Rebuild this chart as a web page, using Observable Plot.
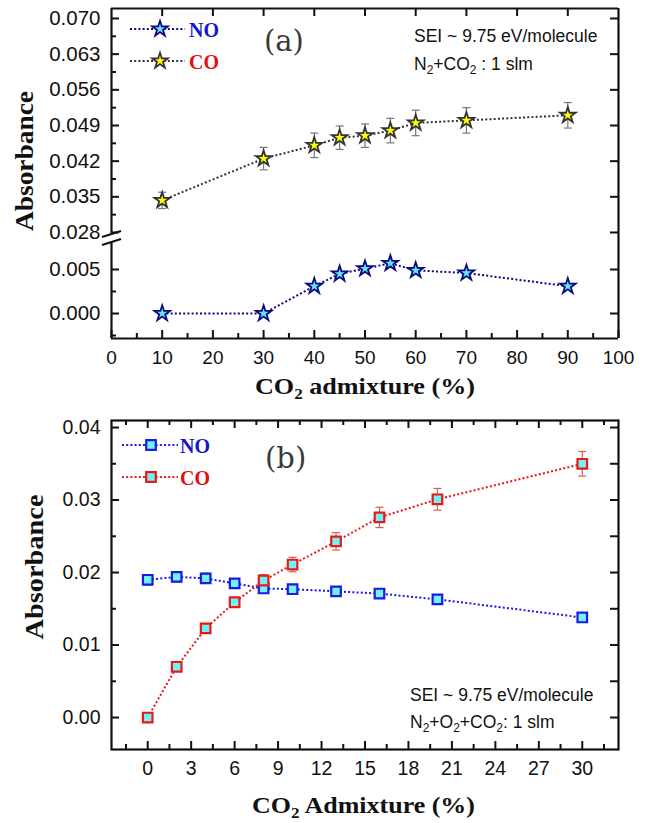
<!DOCTYPE html>
<html><head><meta charset="utf-8">
<script src="https://cdn.jsdelivr.net/npm/d3@7"></script>
<script src="https://cdn.jsdelivr.net/npm/@observablehq/plot@0.6"></script>
<style>
body{margin:0;background:#fff;}
#wrap{position:relative;width:665px;height:823px;overflow:hidden;background:#fff;}
#wrap svg{position:absolute;left:0;}
</style></head><body><div id="wrap"></div>
<script>
// ---------- data: panel (a) ----------
const admixA = [10, 30, 40, 45, 50, 55, 60, 70, 90];
const coA    = [0.0343, 0.0425, 0.0451, 0.0466, 0.0470, 0.0480, 0.0495, 0.0500, 0.0510];
const coAErr = [0.0016, 0.0022, 0.0024, 0.0023, 0.0023, 0.0024, 0.0025, 0.0025, 0.0025];
const noA    = [0.0000, 0.0000, 0.0031, 0.0045, 0.0051, 0.0057, 0.0049, 0.0046, 0.0031];
// ---------- data: panel (b) ----------
const admixB = [0, 2, 4, 6, 8, 10, 13, 16, 20, 30];
const noB    = [0.0190, 0.0194, 0.0192, 0.0185, 0.0178, 0.0177, 0.0174, 0.0171, 0.0163, 0.0138];
const noBErr = [0.0007, 0.0007, 0.0007, 0.0006, 0.0005, 0.0005, 0.0004, 0.0004, 0.0004, 0.0003];
const coB    = [0.0000, 0.0070, 0.0123, 0.0159, 0.0189, 0.0211, 0.0243, 0.0276, 0.0301, 0.0350];
const coBErr = [0.0003, 0.0005, 0.0005, 0.0005, 0.0008, 0.0010, 0.0012, 0.0014, 0.0015, 0.0017];
// ---------- ticks ----------
const xTicksA = [0, 10, 20, 30, 40, 50, 60, 70, 80, 90, 100];
const xMinorA = [5, 15, 25, 35, 45, 55, 65, 75, 85, 95];
const yUpperTicks = [0.028, 0.035, 0.042, 0.049, 0.056, 0.063, 0.070];
const yUpperMinor = [0.0315, 0.0385, 0.0455, 0.0525, 0.0595, 0.0665];
const yLowerTicks = [0.000, 0.005];
const yLowerMinor = [-0.0025, 0.0025];
const xTicksB = [0, 3, 6, 9, 12, 15, 18, 21, 24, 27, 30];
const xMinorB = [-1.5, 1.5, 4.5, 7.5, 10.5, 13.5, 16.5, 19.5, 22.5, 25.5, 28.5, 31.5];
const yTicksB = [0.00, 0.01, 0.02, 0.03, 0.04];
const yMinorB = [0.005, 0.015, 0.025, 0.035];
// axis extents
const xDomainA = [0, 100];
const upperDomain = [0.02682, 0.07196];
const upperBreak = 0.02761;
const lowerDomain = [-0.00284, 0.00852];
const lowerBreak = 0.00807;
const xDomainB = [-2.5, 32.5];
const yDomainB = [-0.00441, 0.04097];

// ---------- layout ----------
const W = 665, ML = 111, MR = 47, PW = W - ML - MR;
const MAJ = 8, MIN = 5, SW = 2.2;
const wrap = document.getElementById("wrap");
const baseStyle = {fontFamily: "'Liberation Sans', Arial, sans-serif", fontSize: "19px", color: "#111", background: "transparent", overflow: "visible"};

const capSymbol = {draw(ctx, size) { const w = Math.sqrt(size); ctx.moveTo(-w / 2, 0); ctx.lineTo(w / 2, 0); }};
const dotted = {strokeWidth: 2, strokeDasharray: "2 2.2", strokeLinecap: "butt"};

function ticksLeft(vals, len) { return Plot.tickY(vals, {y: d => d, insetRight: PW - len, strokeWidth: 2}); }
function ticksRight(vals, len) { return Plot.tickY(vals, {y: d => d, insetLeft: PW - len, strokeWidth: 2}); }
function ticksBottom(vals, len, ph) { return Plot.tickX(vals, {x: d => d, insetTop: ph - len, strokeWidth: 2}); }
function ticksTop(vals, len, ph) { return Plot.tickX(vals, {x: d => d, insetBottom: ph - len, strokeWidth: 2}); }

function place(svg, top) { svg.style.top = top + "px"; wrap.appendChild(svg); }

const dataA = admixA.map((x, i) => ({x, co: coA[i], coErr: coAErr[i], no: noA[i]}));
const dataB = admixB.map((x, i) => ({x, no: noB[i], noErr: noBErr[i], co: coB[i], coErr: coBErr[i]}));

// ---------- panel (a), upper segment ----------
const upH = 230;
place(Plot.plot({
  width: W, height: 238, marginLeft: ML, marginRight: MR, marginTop: 8, marginBottom: 0,
  x: {domain: xDomainA, axis: null}, y: {domain: upperDomain, axis: null},
  style: baseStyle,
  marks: [
    Plot.ruleY([upperDomain[1]], {strokeWidth: SW}),
    Plot.ruleX([xDomainA[1]], {strokeWidth: SW}),
    Plot.ruleX([xDomainA[0]], {y1: upperBreak, y2: upperDomain[1], strokeWidth: SW}),
    ticksLeft(yUpperTicks, MAJ), ticksLeft(yUpperMinor, MIN),
    ticksRight(yUpperTicks, MAJ),
    ticksTop(xTicksA.slice(1, -1), MAJ, upH),
    Plot.axisY(yUpperTicks, {anchor: "left", tickSize: 0, tickPadding: 11, fontSize: 20.5, tickFormat: d3.format(".3f"), label: null}),
    Plot.line(dataA, {x: "x", y: "co", stroke: "#333", ...dotted}),
    Plot.ruleX(dataA, {x: "x", y1: d => d.co - d.coErr, y2: d => d.co + d.coErr, stroke: "#777", strokeWidth: 1.2}),
    Plot.dot(dataA, {x: "x", y: d => d.co + d.coErr, symbol: capSymbol, r: 4.5, fill: "none", stroke: "#777", strokeWidth: 1.2}),
    Plot.dot(dataA, {x: "x", y: d => d.co - d.coErr, symbol: capSymbol, r: 4.5, fill: "none", stroke: "#777", strokeWidth: 1.2}),
    Plot.dot(dataA, {x: "x", y: "co", symbol: "star", r: 4.9, fill: "#ffff00", stroke: "#333", strokeWidth: 1.8})
  ]
}), 0);

// ---------- panel (a), lower segment ----------
const loH = 100;
place(Plot.plot({
  width: W, height: 140, marginLeft: ML, marginRight: MR, marginTop: 0, marginBottom: 40,
  x: {domain: xDomainA}, y: {domain: lowerDomain},
  style: baseStyle,
  marks: [
    Plot.ruleY([lowerDomain[0]], {strokeWidth: SW}),
    Plot.ruleX([xDomainA[1]], {strokeWidth: SW}),
    Plot.ruleX([xDomainA[0]], {y1: lowerDomain[0], y2: lowerBreak, strokeWidth: SW}),
    ticksLeft(yLowerTicks, MAJ), ticksLeft(yLowerMinor, MIN),
    ticksRight(yLowerTicks, MAJ),
    ticksBottom(xTicksA, MAJ, loH), ticksBottom(xMinorA, MIN, loH),
    Plot.axisY(yLowerTicks, {anchor: "left", tickSize: 0, tickPadding: 11, fontSize: 20.5, tickFormat: d3.format(".3f"), label: null}),
    Plot.axisX(xTicksA, {anchor: "bottom", tickSize: 0, tickPadding: 12, label: null}),
    Plot.line(dataA, {x: "x", y: "no", stroke: "#0a0a80", ...dotted}),
    Plot.dot(dataA, {x: "x", y: "no", symbol: "star", r: 4.9, fill: "#66e6f8", stroke: "#0a0a80", strokeWidth: 1.8})
  ]
}), 238);

// ---------- panel (b) ----------
const bH = 329;
const errB = (key, ekey, color) => [
  Plot.ruleX(dataB, {x: "x", y1: d => d[key] - d[ekey], y2: d => d[key] + d[ekey], stroke: color, strokeWidth: 1.2}),
  Plot.dot(dataB, {x: "x", y: d => d[key] + d[ekey], symbol: capSymbol, r: 4.5, fill: "none", stroke: color, strokeWidth: 1.2}),
  Plot.dot(dataB, {x: "x", y: d => d[key] - d[ekey], symbol: capSymbol, r: 4.5, fill: "none", stroke: color, strokeWidth: 1.2})
];
place(Plot.plot({
  width: W, height: 389, marginLeft: ML, marginRight: MR, marginTop: 20, marginBottom: 40,
  x: {domain: xDomainB}, y: {domain: yDomainB},
  style: baseStyle,
  marks: [
    Plot.frame({strokeWidth: SW}),
    ticksLeft(yTicksB, MAJ), ticksLeft(yMinorB, MIN),
    ticksRight(yTicksB, MAJ), ticksRight(yMinorB, MAJ),
    ticksBottom(xTicksB, MAJ, bH), ticksBottom(xMinorB, MIN, bH),
    ticksTop(xTicksB, MAJ, bH), ticksTop(xMinorB, MIN, bH),
    Plot.axisY(yTicksB, {anchor: "left", tickSize: 0, tickPadding: 11, fontSize: 19.5, tickFormat: d3.format(".2f"), label: null}),
    Plot.axisX(xTicksB, {anchor: "bottom", tickSize: 0, tickPadding: 12, fontSize: 19.5, label: null}),
    Plot.line(dataB, {x: "x", y: "no", stroke: "#1a1ae6", ...dotted}),
    Plot.line(dataB, {x: "x", y: "co", stroke: "#e61a1a", ...dotted}),
    ...errB("no", "noErr", "#6a6ae0"),
    ...errB("co", "coErr", "#d85a5a"),
    Plot.dot(dataB, {x: "x", y: "no", symbol: "square", r: 5.4, fill: "#72f2f2", stroke: "#1a1ae6", strokeWidth: 2.2}),
    Plot.dot(dataB, {x: "x", y: "co", symbol: "square", r: 5.4, fill: "#72f2f2", stroke: "#e61a1a", strokeWidth: 2.2})
  ]
}), 400);

// ---------- overlay: titles, legends, annotations, axis break ----------
const ov = d3.create("svg").attr("width", W).attr("height", 823).style("top", "0px").style("pointer-events", "none");
const serif = "'Liberation Serif', 'Times New Roman', serif";
const serif2 = "'DejaVu Serif', serif";
const sans = "'Liberation Sans', Arial, sans-serif";

function yTitle(x, y, len) {
  ov.append("text").attr("transform", `translate(${x},${y}) rotate(-90)`).attr("text-anchor", "middle")
    .attr("font-family", serif).attr("font-weight", "bold").attr("font-size", 26).attr("fill", "#111")
    .attr("textLength", len).attr("lengthAdjust", "spacingAndGlyphs").text("Absorbance");
}
yTitle(33, 161, 140);
yTitle(43, 567, 145);

function xTitle(x, y, len, word) {
  const t = ov.append("text").attr("x", x).attr("y", y).attr("font-family", serif).attr("font-weight", "bold")
    .attr("font-size", 23).attr("fill", "#111").attr("textLength", len).attr("lengthAdjust", "spacingAndGlyphs");
  t.append("tspan").text("CO");
  t.append("tspan").attr("font-size", 15).attr("dy", 5).text("2");
  t.append("tspan").attr("dy", -5).text(" " + word + " (%)");
}
xTitle(255, 394, 220, "admixture");
xTitle(252, 813, 223, "Admixture");

function panelLabel(x, y, s) {
  ov.append("text").attr("x", x).attr("y", y).attr("font-family", serif2).attr("font-size", 29)
    .attr("fill", "#3a3a3a").text(s);
}
panelLabel(264, 51, "(a)");
panelLabel(265, 468, "(b)");

function note(x, y, parts) {
  const t = ov.append("text").attr("x", x).attr("y", y).attr("font-family", sans).attr("font-size", 17.5).attr("fill", "#111");
  let inSub = false;
  for (const p of parts) {
    if (typeof p === "object") { t.append("tspan").attr("font-size", 12).attr("dy", inSub ? 0 : 4).text(p.s); inSub = true; }
    else { t.append("tspan").attr("dy", inSub ? -4 : 0).text(p); inSub = false; }
  }
}
note(414, 42, ["SEI ~ 9.75 eV/molecule"]);
note(414, 70, ["N", {s: "2"}, "+CO", {s: "2"}, " : 1 slm"]);
note(410, 701, ["SEI ~ 9.75 eV/molecule"]);
note(410, 728, ["N", {s: "2"}, "+O", {s: "2"}, "+CO", {s: "2"}, ": 1 slm"]);

function legendRow(x1, x2, xs, y, lineColor, symType, r, fill, stroke, sw, label, labelColor, tx, ty) {
  ov.append("line").attr("x1", x1).attr("x2", x2).attr("y1", y).attr("y2", y)
    .attr("stroke", lineColor).attr("stroke-width", 2).attr("stroke-dasharray", "2 2.2");
  ov.append("path").attr("transform", `translate(${xs},${y})`)
    .attr("d", d3.symbol(symType, Math.PI * r * r)())
    .attr("fill", fill).attr("stroke", stroke).attr("stroke-width", sw);
  ov.append("text").attr("x", tx).attr("y", ty).attr("font-family", serif).attr("font-weight", "bold")
    .attr("font-size", 20).attr("fill", labelColor).text(label);
}
legendRow(130, 185, 160, 29, "#0a0a80", d3.symbolStar, 4.9, "#66e6f8", "#0a0a80", 1.8, "NO", "#1414d2", 189, 37);
legendRow(130, 185, 160, 61, "#333", d3.symbolStar, 4.9, "#ffff00", "#333", 1.8, "CO", "#e01010", 189, 69);
legendRow(122, 178, 151, 445, "#1a1ae6", d3.symbolSquare, 5.4, "#72f2f2", "#1a1ae6", 2.2, "NO", "#1414d2", 180, 453);
legendRow(122, 178, 151, 477, "#e61a1a", d3.symbolSquare, 5.4, "#72f2f2", "#e61a1a", 2.2, "CO", "#e01010", 180, 485);

// axis break marks on panel (a)
ov.append("line").attr("x1", 102).attr("y1", 237).attr("x2", 121).attr("y2", 231).attr("stroke", "#111").attr("stroke-width", 2);
ov.append("line").attr("x1", 102).attr("y1", 245).attr("x2", 121).attr("y2", 239).attr("stroke", "#111").attr("stroke-width", 2);

wrap.appendChild(ov.node());
</script></body></html>
